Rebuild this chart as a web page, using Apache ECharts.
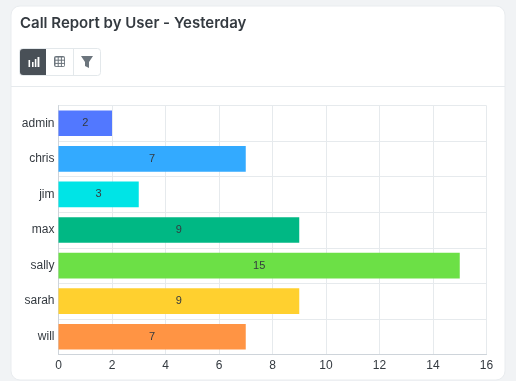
<!DOCTYPE html>
<html>
<head>
<meta charset="utf-8">
<style>html,body{margin:0;padding:0;background:#f1f3f5;overflow:hidden}#c{width:516px;height:381px}</style>
<script src="https://cdn.jsdelivr.net/npm/echarts@6/dist/echarts.min.js"></script>
</head>
<body>
<div id="c"></div>
<script>
const titleText = 'Call Report by User - Yesterday';
const users = ['admin', 'chris', 'jim', 'max', 'sally', 'sarah', 'will'];
const calls = [2, 7, 3, 9, 15, 9, 7];
const barColors = ['#5278ff', '#33aaff', '#00e4e6', '#00b884', '#6ce046', '#ffd02f', '#ff9444'];

const chart = echarts.init(document.getElementById('c'), null, {renderer: 'canvas'});
const line = '#e6eaed';
const icon = '#6c757d';
const rects = (list, fill) => list.map(r => ({
  type: 'rect', shape: {x: r[0], y: r[1], width: r[2], height: r[3]}, style: {fill}, z: 3
}));
const cells = [];
[55.5, 58.7, 61.9].forEach(x => [57.5, 60.7, 63.9].forEach(y => cells.push([x, y, 2.2, 2.2])));
chart.setOption({
  animation: false,
  backgroundColor: '#f1f3f5',
  title: {
    text: titleText, left: 15, top: 11,
    textStyle: {fontFamily: 'Inter', fontSize: 15, fontWeight: 600, color: '#343a40'}
  },
  graphic: [
    {type: 'rect', z: -2, shape: {x: 11, y: 6, width: 494, height: 374, r: 9},
      style: {fill: '#fff', stroke: '#e9ecef', lineWidth: 1}},
    {type: 'line', z: -1, shape: {x1: 11, y1: 86.5, x2: 505, y2: 86.5}, style: {stroke: line, lineWidth: 1}},
    {type: 'rect', z: 1, shape: {x: 19.5, y: 48.5, width: 81, height: 27, r: 3},
      style: {fill: '#fff', stroke: '#e3e8eb', lineWidth: 1}},
    {type: 'rect', z: 2, shape: {x: 20, y: 49, width: 26, height: 26, r: [3, 0, 0, 3]}, style: {fill: '#495057'}},
    {type: 'line', z: 2, shape: {x1: 73.5, y1: 49, x2: 73.5, y2: 75}, style: {stroke: '#e3e8eb', lineWidth: 1}},
    ...rects([[28.5, 60, 1.6, 7], [32, 62, 1.6, 5], [34.8, 59, 1.6, 8], [37.5, 57, 1.9, 10]], '#fff'),
    {type: 'rect', z: 3, shape: {x: 54, y: 56, width: 11, height: 11, r: 2}, style: {fill: icon}},
    ...rects(cells, '#fff'),
    {type: 'polygon', z: 3, shape: {points: [[81, 56], [93, 56], [89, 62], [89, 68], [85, 66], [85, 62]]},
      style: {fill: icon}}
  ],
  grid: {left: 58.5, right: 29.5, top: 105.5, bottom: 26.5, containLabel: false},
  xAxis: {
    type: 'value', min: 0, max: 16, interval: 2,
    axisLine: {show: true, lineStyle: {color: '#ced4da'}},
    axisTick: {show: false},
    axisLabel: {color: '#343a40', fontFamily: 'Liberation Sans', fontSize: 12, margin: 5},
    splitLine: {show: true, lineStyle: {color: line}}
  },
  yAxis: {
    type: 'category', data: users, inverse: true,
    axisLine: {show: true, lineStyle: {color: '#ced4da'}},
    axisTick: {show: false},
    axisLabel: {color: '#343a40', fontFamily: 'Liberation Sans', fontSize: 12, margin: 4},
    splitLine: {show: true, lineStyle: {color: line}}
  },
  series: [{
    type: 'bar', barWidth: '72%',
    data: calls.map((v, i) => ({value: v, itemStyle: {color: barColors[i]}})),
    label: {show: true, position: 'inside', color: '#343a40', fontFamily: 'Liberation Sans', fontSize: 11}
  }]
});
</script>
</body>
</html>
